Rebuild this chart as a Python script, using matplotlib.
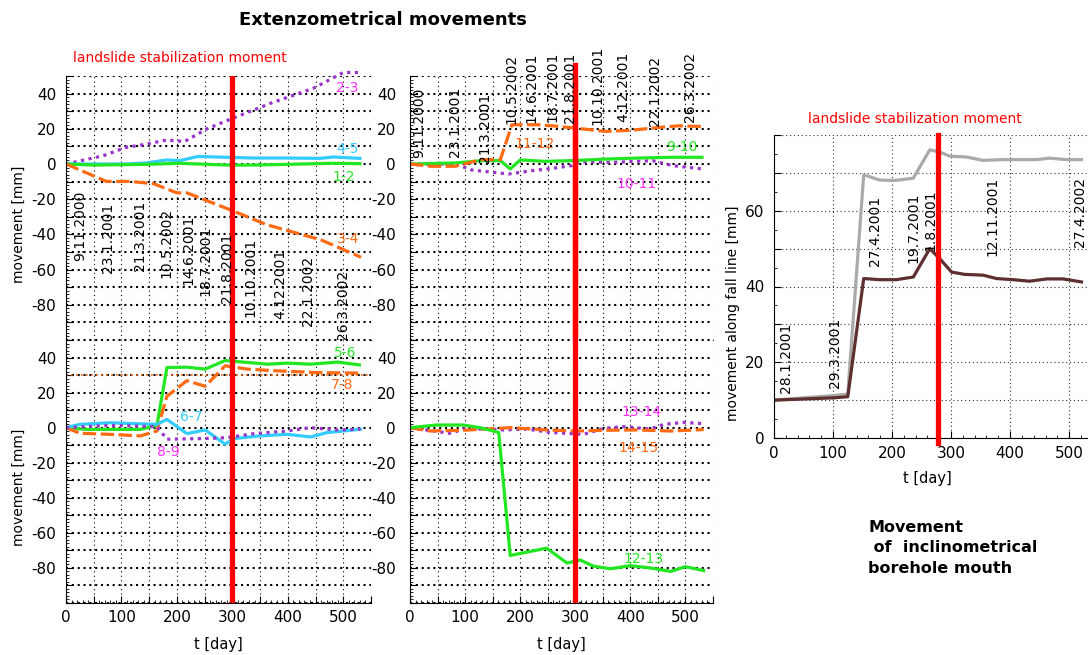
import matplotlib.pyplot as plt
from matplotlib.ticker import MultipleLocator, FuncFormatter

# ---- extensometers, upper left (1-2, 2-3, 3-4, 4-5)
t_12 = [0, 50, 145, 205, 290, 338, 398, 482, 530]
v_12 = [0, -0.6, -0.2, 0.4, -0.6, -0.6, -0.2, 0.4, 0.2]
t_23 = [0, 67, 108, 145, 181, 214, 253, 289, 325, 373, 446, 500, 527]
v_23 = [0, 4.7, 9.4, 11.3, 13.6, 12.8, 19.8, 24.5, 29, 35, 43, 52, 52]
t_34 = [0, 73, 116, 158, 200, 218, 296, 362, 405, 459, 501, 532]
v_34 = [0, -9.9, -9.9, -11.2, -16.4, -16.4, -26, -34.5, -38.3, -43, -48.7, -53]
t_45 = [0, 108, 145, 181, 205, 238, 290, 338, 398, 458, 482, 530]
v_45 = [0, 0, 0.6, 2.3, 1.9, 4.3, 3.8, 3.4, 3.4, 3.2, 4, 3.2]

# ---- lower left (5-6, 6-7, 7-8, 8-9)
t_56 = [0, 37, 134, 164, 182, 218, 251, 287, 327, 363, 399, 441, 490, 529]
v_56 = [0, -1, -1, 1.3, 34.3, 34.5, 33.4, 38.3, 37.2, 36.2, 36.8, 36.2, 37.4, 35.8]
t_67 = [0, 25, 79, 164, 182, 218, 251, 287, 303, 350, 399, 441, 471, 531]
v_67 = [0, 1.9, 2.8, 1.9, 4.7, -3.4, -1.3, -9.4, -6.2, -4.7, -3.8, -5.3, -2.8, -0.9]
t_78 = [0, 25, 79, 134, 164, 182, 218, 251, 287, 327, 375, 447, 531]
v_78 = [0, -3.2, -3.8, -4.7, -1.9, 17.9, 26.8, 23.6, 35.3, 33.4, 32.5, 31.5, 31.1]
t_89 = [0, 79, 164, 182, 248, 290, 339, 399, 441, 490, 531]
v_89 = [0, 1.3, 0.6, -6.6, -6.2, -5.7, -3.4, -1.9, 0, -1.3, -0.9]
limit_78 = 30

# ---- upper middle (9-10, 10-11, 11-12)
t_910 = [0, 82, 130, 164, 182, 200, 245, 294, 355, 415, 476, 530]
v_910 = [0, 0.6, 1.9, 1.9, -2.8, 2.3, 1.5, 1.9, 2.8, 3.4, 3.8, 3.8]
t_1011 = [0, 82, 112, 179, 221, 258, 294, 306, 367, 440, 476, 530]
v_1011 = [0, 0, -3.4, -5.7, -3.8, -2.5, -0.9, 1.3, 0.9, 1.9, -0.9, -2.8]
t_1112 = [0, 39, 82, 130, 164, 185, 233, 258, 306, 355, 403, 452, 488, 530]
v_1112 = [0, -1.3, -1.3, 2.5, 2.5, 22.3, 22.3, 21.7, 20.2, 18.5, 19.2, 20.8, 21.7, 21.3]

# ---- lower middle (12-13, 13-14, 14-15)
t_1213 = [0, 48, 97, 127, 161, 182, 248, 285, 309, 333, 364, 400, 436, 473, 500, 533]
v_1213 = [0, 1.5, 1.5, 0, -2.7, -72.9, -68.7, -77.2, -75.5, -79, -80.5, -78.7, -80, -82, -79.3, -81.5]
t_1314 = [0, 72, 103, 170, 212, 255, 315, 352, 388, 436, 461, 497, 533]
v_1314 = [0, -3.2, -0.4, -1.3, -0.8, -2.7, -3.8, -0.4, 0.6, -0.8, 1.9, 3, 2.3]
t_1415 = [0, 36, 97, 182, 248, 303, 352, 412, 473, 533]
v_1415 = [0, -1.9, -1.5, 0, -1.3, -1.9, -1.5, -1.3, -1.9, -1.1]

# ---- inclinometer borehole mouth
t_light = [0, 100, 125, 152, 179, 205, 236, 264, 281, 298, 326, 354, 388, 445, 467, 495, 521]
v_light = [10, 11.2, 11.6, 69.5, 68.1, 68, 68.6, 76.1, 75.5, 74.4, 74.2, 73.3, 73.5, 73.5, 73.9, 73.5, 73.5]
t_dark = [0, 100, 125, 152, 179, 207, 236, 264, 281, 301, 323, 354, 377, 405, 433, 462, 490, 521]
v_dark = [10, 10.6, 10.9, 42.1, 41.8, 41.8, 42.5, 50, 47.3, 43.8, 43.2, 43, 42.1, 41.8, 41.4, 42, 42, 41.2]

# date labels
dates_ext = ["9.11.2000", "23.1.2001", "21.3.2001", "10.5.2002", "14.6.2001", "18.7.2001",
             "21.8.2001", "10.10.2001", "4.12.2001", "22.1.2002", "26.3.2002"]
dl_x = [25, 76, 134, 182, 220, 252, 290, 332, 386, 436, 499]
dl_y = [-15, -22, -21, -25, -29, -35, -39, -42, -48, -52, -60]
dm_x = [16, 82, 136, 185, 220, 258, 291, 340, 388, 445, 509]
dm_y = [3.3, 4, 0.7, 23, 23.5, 24, 23.5, 22, 24, 21.6, 24]
dates_inc = ["28.1.2001", "29.3.2001", "27.4.2001", "19.7.2001", "1.8.2001", "12.11.2001", "27.4.2002"]
di_x = [21, 103, 171, 237, 265, 370, 519]
di_y = [11.8, 13.1, 45.4, 46.3, 49.4, 48, 50.3]

stab_ext = 300
stab_inc = 278

GREEN = '#22E622'
CYAN = '#33CCFF'
ORANGE = '#FF6A13'
PURPLE = '#9933CC'
MAGENTA = '#FF33FF'
DASH = (0, (4.2, 1.4))
DOT = (0, (1, 1.4))

W, H = 1088, 655


def box(l, t, r, b):
    return [l / W, 1 - b / H, (r - l) / W, (b - t) / H]


def style_ext(ax, top, pad):
    ax.set_xlim(0, 550)
    ax.set_ylim(-100, 50)
    ax.xaxis.set_major_locator(MultipleLocator(50))
    ax.xaxis.set_minor_locator(MultipleLocator(10))
    ax.yaxis.set_major_locator(MultipleLocator(10))
    ax.yaxis.set_minor_locator(MultipleLocator(2))
    ax.yaxis.set_major_formatter(FuncFormatter(
        lambda v, p: f"{round(v)}" if round(v) % 20 == 0 and -90 < v < 50 else ""))
    ax.xaxis.set_major_formatter(FuncFormatter(
        lambda v, p: f"{round(v)}" if round(v) % 100 == 0 and v < 540 else ""))
    ax.spines['top'].set_visible(False)
    ax.spines['right'].set_visible(False)
    ax.tick_params(which='both', direction='in', labelsize=11)
    ax.tick_params(which='major', length=5)
    ax.tick_params(which='minor', length=2.5)
    ax.tick_params(axis='y', pad=pad)
    ax.tick_params(axis='x', pad=5)
    ax.grid(axis='y', which='major', color='black', lw=1.5, ls=(0, (1, 1.8)))
    ax.grid(axis='x', which='major', color='black', lw=0.8, ls=(0, (1, 3)))
    if top:
        ax.tick_params(axis='x', which='both', length=0, labelbottom=False)
    ax.axvline(stab_ext, color='red', lw=3.8, zorder=5)


fig = plt.figure(figsize=(10.88, 6.55), dpi=100)

ax_tl = fig.add_axes(box(66, 76, 371, 340))
ax_bl = fig.add_axes(box(66, 340, 371, 603))
ax_tm = fig.add_axes(box(410, 76, 713, 340))
ax_bm = fig.add_axes(box(410, 340, 713, 603))
ax_r = fig.add_axes(box(774, 135, 1088, 438))

style_ext(ax_tl, True, 7)
style_ext(ax_bl, False, 7)
style_ext(ax_tm, True, 10)
style_ext(ax_bm, False, 10)
ax_tm.axvline(stab_ext, color='red', lw=3.8, zorder=5, ymin=0, ymax=1.04, clip_on=False)

lw = 2.3
# upper left
ax_tl.plot(t_23, v_23, color=PURPLE, lw=lw, ls=DOT, clip_on=False)
ax_tl.plot(t_45, v_45, color=CYAN, lw=lw)
ax_tl.plot(t_12, v_12, color=GREEN, lw=lw)
ax_tl.plot(t_34, v_34, color=ORANGE, lw=lw, ls=DASH)
ax_tl.text(507, 43, "2-3", color=MAGENTA, fontsize=10, ha='center', va='center')
ax_tl.text(507, 8.7, "4-5", color=CYAN, fontsize=10, ha='center', va='center')
ax_tl.text(501, -7.2, "1-2", color=GREEN, fontsize=10, ha='center', va='center')
ax_tl.text(508, -42.5, "3-4", color=ORANGE, fontsize=10, ha='center', va='center')
for lab, x, y in zip(dates_ext, dl_x, dl_y):
    ax_tl.text(x, y, lab, rotation=90, fontsize=10, ha='center', va='top', zorder=6)

# lower left
ax_bl.axhline(limit_78, color=ORANGE, lw=1.2, ls=(0, (1, 2)))
ax_bl.plot(t_56, v_56, color=GREEN, lw=lw)
ax_bl.plot(t_78, v_78, color=ORANGE, lw=lw, ls=DASH)
ax_bl.plot(t_67, v_67, color=CYAN, lw=lw)
ax_bl.plot(t_89, v_89, color=PURPLE, lw=lw, ls=DOT)
ax_bl.text(503, 42.8, "5-6", color=GREEN, fontsize=10, ha='center', va='center')
ax_bl.text(498, 24.3, "7-8", color=ORANGE, fontsize=10, ha='center', va='center')
ax_bl.text(225, 6.1, "6-7", color=CYAN, fontsize=10, ha='center', va='center')
ax_bl.text(184, -13.8, "8-9", color=MAGENTA, fontsize=10, ha='center', va='center')

# upper middle
ax_tm.plot(t_1011, v_1011, color=PURPLE, lw=lw, ls=DOT)
ax_tm.plot(t_910, v_910, color=GREEN, lw=lw)
ax_tm.plot(t_1112, v_1112, color=ORANGE, lw=lw, ls=DASH)
ax_tm.text(227, 11.4, "11-12", color=ORANGE, fontsize=10, ha='center', va='center')
ax_tm.text(494, 9.8, "9-10", color=GREEN, fontsize=10, ha='center', va='center')
ax_tm.text(412, -11.3, "10-11", color=MAGENTA, fontsize=10, ha='center', va='center')
for lab, x, y in zip(dates_ext, dm_x, dm_y):
    ax_tm.text(x, y, lab, rotation=90, fontsize=10, ha='center', va='bottom', zorder=6)

# lower middle
ax_bm.plot(t_1314, v_1314, color=PURPLE, lw=lw, ls=DOT)
ax_bm.plot(t_1415, v_1415, color=ORANGE, lw=lw, ls=DASH)
ax_bm.plot(t_1213, v_1213, color=GREEN, lw=lw)
ax_bm.text(421, 9, "13-14", color=MAGENTA, fontsize=10, ha='center', va='center')
ax_bm.text(414, -11.5, "14-15", color=ORANGE, fontsize=10, ha='center', va='center')
ax_bm.text(423, -75, "12-13", color=GREEN, fontsize=10, ha='center', va='center')

# inclinometer panel
ax_r.set_xlim(0, 532)
ax_r.set_ylim(0, 80)
ax_r.xaxis.set_major_locator(MultipleLocator(100))
ax_r.xaxis.set_minor_locator(MultipleLocator(20))
ax_r.yaxis.set_major_locator(MultipleLocator(10))
ax_r.yaxis.set_minor_locator(MultipleLocator(5))
ax_r.yaxis.set_major_formatter(FuncFormatter(
    lambda v, p: f"{round(v)}" if round(v) % 20 == 0 and v < 75 else ""))
ax_r.spines['top'].set_visible(False)
ax_r.spines['right'].set_visible(False)
ax_r.tick_params(which='both', direction='in', labelsize=11)
ax_r.tick_params(which='major', length=5)
ax_r.tick_params(which='minor', length=2.5)
ax_r.tick_params(axis='y', pad=7)
ax_r.tick_params(axis='x', pad=6)
ax_r.grid(which='major', color='#333333', lw=0.8, ls=(0, (1, 2.5)))
ax_r.plot(t_light, v_light, color='#AAAAAA', lw=2.3)
ax_r.plot(t_dark, v_dark, color='#5E2F2F', lw=2.3)
ax_r.axvline(stab_inc, color='red', lw=3.8, zorder=5, ymin=-0.015, ymax=1.0, clip_on=False)
for lab, x, y in zip(dates_inc, di_x, di_y):
    ax_r.text(x, y, lab, rotation=90, fontsize=10, ha='center', va='bottom', zorder=6)

# figure texts
fig.text(383 / W, 1 - 20 / H, "Extenzometrical movements", fontsize=13, fontweight='bold',
         ha='center', va='center')
fig.text(180 / W, 1 - 58 / H, "landslide stabilization moment", color='red', fontsize=10,
         ha='center', va='center')
fig.text(915 / W, 1 - 119 / H, "landslide stabilization moment", color='red', fontsize=10,
         ha='center', va='center')
fig.text(19 / W, 1 - 224 / H, "movement [mm]", rotation=90, fontsize=10, ha='center', va='center')
fig.text(19 / W, 1 - 487 / H, "movement [mm]", rotation=90, fontsize=10, ha='center', va='center')
fig.text(218 / W, 1 - 644 / H, "t [day]", fontsize=10.5, ha='center', va='center')
fig.text(561 / W, 1 - 644 / H, "t [day]", fontsize=10.5, ha='center', va='center')
fig.text(927 / W, 1 - 478 / H, "t [day]", fontsize=10.5, ha='center', va='center')
fig.text(733 / W, 1 - 313 / H, "movement along fall line [mm]", rotation=90, fontsize=10,
         ha='center', va='center')
fig.text(868 / W, 1 - 548 / H, "Movement\n of  inclinometrical\nborehole mouth", fontsize=11.5,
         fontweight='bold', ha='left', va='center', linespacing=1.45)

fig.savefig("out.png", dpi=100)
